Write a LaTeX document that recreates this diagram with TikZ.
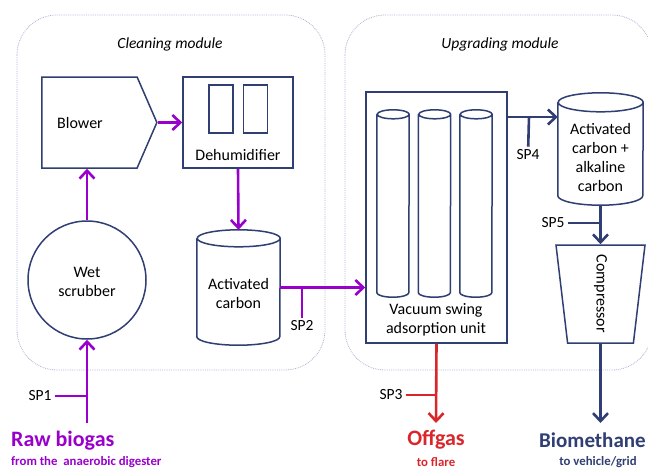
\documentclass[tikz,border=0pt]{standalone}
\usepackage{fontspec}
\setmainfont{Carlito}
\usetikzlibrary{shapes.geometric, shapes.symbols, arrows.meta}
\definecolor{navy}{RGB}{47,62,115}
\definecolor{gaspurple}{RGB}{153,0,204}
\definecolor{flarered}{RGB}{217,38,43}
\definecolor{modgray}{RGB}{172,178,208}
\tikzstyle{module} = [draw=modgray, densely dotted, line width=0.8pt, rounded corners=40pt]
\tikzstyle{unit} = [draw=navy, line width=1.5pt, fill=white, inner sep=0pt]
\tikzstyle{tank} = [rectangle, inner sep=0pt]
\tikzstyle{tankline} = [draw=navy, line width=1.5pt, fill=white]
\tikzstyle{txt} = [font=\fontsize{16}{19}\selectfont, align=center, inner sep=2pt]
\tikzstyle{sptxt} = [font=\fontsize{15.5}{18}\selectfont, inner sep=3pt]
\tikzstyle{bigtxt} = [font=\fontsize{22}{26}\selectfont\bfseries, inner sep=0pt]
\tikzstyle{smalltxt} = [font=\fontsize{12.8}{15}\selectfont\bfseries, inner sep=0pt]
\tikzstyle{flow} = [line width=2.6pt, -{Straight Barb[length=8pt,width=15pt,line width=2.6pt]}]
\tikzstyle{tick} = [line width=2.6pt]
% #1 tank node, #2 half width, #3 radius of the end ellipse
\newcommand{\drawtank}[3]{
    \draw[tankline] ([yshift=-#3]#1.north west) -- ([yshift=#3]#1.south west)
        arc[start angle=180, end angle=360, x radius=#2, y radius=#3]
        -- ([yshift=-#3]#1.north east)
        arc[start angle=0, end angle=180, x radius=#2, y radius=#3]
        arc[start angle=180, end angle=360, x radius=#2, y radius=#3];
}

\begin{document}
\begin{tikzpicture}[x=1pt, y=-1pt]
            \useasboundingbox (0,0) rectangle (648,469);

            \draw[module] (17,15) rectangle (325,370);
            \draw[module] (345,15) rectangle (652,370);
            \node(cleanlab) [txt, font=\fontsize{15.5}{18}\selectfont\itshape] at (170,44) {Cleaning module};
            \node(upglab) [txt, font=\fontsize{15.5}{18}\selectfont\itshape] at (500,44) {Upgrading module};

            % cleaning module
            \node(blower) [unit, signal, signal to=east, signal pointer angle=133, minimum width=115pt, minimum height=91pt] at (89.5,122.5) {};
            \node(blowerlab) [txt] at (80,123) {Blower};
            \node(dehum) [unit, rectangle, minimum width=110pt, minimum height=91pt] at (238,122.5) {};
            \node(dehumA) [unit, rectangle, minimum width=24pt, minimum height=48pt] at (221,109) {};
            \node(dehumB) [unit, rectangle, minimum width=24pt, minimum height=48pt] at (255.5,109) {};
            \node(dehumlab) [txt] at (238,155) {Dehumidifier};
            \node(scrubber) [unit, circle, minimum size=118pt] at (87,280) {};
            \node(scrubberlab) [txt] at (87,282) {Wet\\scrubber};
            \node(actc) [tank, minimum width=83pt, minimum height=115pt] at (238.5,287.5) {};
            \drawtank{actc}{41.5pt}{8.5pt}
            \node(actclab) [txt] at (238.5,293) {Activated\\carbon};

            % upgrading module
            \node(vsa) [unit, rectangle, minimum width=141pt, minimum height=251pt] at (436.5,217.5) {};
            \foreach \i/\x in {1/393, 2/434.5, 3/476}{
                \node(vsacol\i) [tank, minimum width=32pt, minimum height=187pt] at (\x,203.5) {};
                \drawtank{vsacol\i}{16pt}{4.5pt}
            }
            \node(vsalab) [txt] at (436,320) {Vacuum swing\\adsorption unit};
            \node(alk) [tank, minimum width=85pt, minimum height=112pt] at (600.5,149) {};
            \drawtank{alk}{42.5pt}{9.5pt}
            \node(alklab) [txt] at (600.5,157) {Activated\\carbon +\\alkaline\\carbon};
            \node(comp) [unit, inner sep=2pt, trapezium, trapezium angle=80, shape border rotate=180, trapezium stretches=true, minimum width=89pt, minimum height=98pt] at (600.5,294) {};
            \node(complab) [txt, rotate=-90] at (600.5,294) {Compressor};

            % outlets
            \node(rawlab) [bigtxt, anchor=west, text=gaspurple] at (11,441) {Raw biogas};
            \node(rawsub) [smalltxt, anchor=west, text=gaspurple] at (11,462) {from the\ \ anaerobic digester};
            \node(offlab) [bigtxt, text=flarered] at (436,440) {Offgas};
            \node(offsub) [smalltxt, text=flarered] at (436,462) {to flare};
            \node(biolab) [bigtxt, font=\fontsize{21}{25}\selectfont\bfseries, anchor=west, text=navy] at (539,440) {Biomethane};
            \node(biosub) [smalltxt, text=navy] at (598,462) {to vehicle/grid};

            \coordinate(rawin) at (87,423);
            \coordinate(vsaout) at (507,117);
            \coordinate(offout) at (436,423);
            \coordinate(bioout) at (600.5,423);

            \draw[flow, gaspurple] (rawin) -- (scrubber.south);
            \draw[flow, gaspurple] (scrubber.north) -- (scrubber.north |- blower.south);
            \draw[flow, gaspurple] (blower.east) -- (dehum.west);
            \draw[flow, gaspurple] (dehum.south) -- (actc.north);
            \draw[flow, gaspurple] (actc.east) -- (actc.east -| vsa.west);
            \draw[flow, navy] (vsaout) -- (vsaout -| alk.west);
            \draw[flow, navy] (alk.south) -- (comp.north);
            \draw[flow, navy] (comp.south) -- (bioout);
            \draw[flow, flarered] (vsa.south) -- (offout);

            % sampling points
            \coordinate(sp1) at (87,396);
            \coordinate(sp2) at (302,287.5);
            \coordinate(sp3) at (436,395);
            \coordinate(sp4) at (529,117);
            \coordinate(sp5) at (600.5,223);
            \node(sp1lab) [sptxt] at (40,396) {SP1};
            \node(sp2lab) [sptxt] at (302,326) {SP2};
            \node(sp3lab) [sptxt] at (391,395) {SP3};
            \node(sp4lab) [sptxt] at (528,155) {SP4};
            \node(sp5lab) [sptxt] at (553,223) {SP5};
            \draw[tick, gaspurple] (sp1lab) -- (sp1);
            \draw[tick, gaspurple] (sp2) -- (sp2lab);
            \draw[tick, flarered] (sp3lab) -- (sp3);
            \draw[tick, navy] (sp4) -- (sp4lab);
            \draw[tick, navy] (sp5lab) -- (sp5);
        \end{tikzpicture}
\end{document}
